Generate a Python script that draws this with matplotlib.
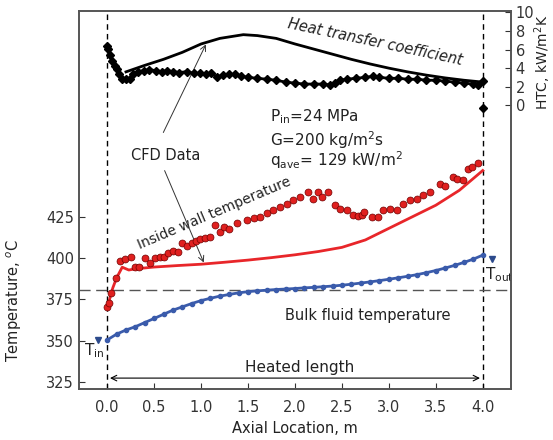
import matplotlib.pyplot as plt

# bulk fluid temperature (blue)
bulk_x = [0.0, 0.1, 0.2, 0.3, 0.4, 0.5, 0.6, 0.7, 0.8, 0.9, 1.0, 1.1, 1.2, 1.3, 1.4,
          1.5, 1.6, 1.7, 1.8, 1.9, 2.0, 2.1, 2.2, 2.3, 2.4, 2.5, 2.6, 2.7, 2.8, 2.9,
          3.0, 3.1, 3.2, 3.3, 3.4, 3.5, 3.6, 3.7, 3.8, 3.9, 4.0]
bulk_t = [350.5, 354, 356.5, 358.5, 361, 363.5, 366, 368.5, 370.5, 372.5, 374.3, 375.7,
          377, 378, 379, 379.7, 380.2, 380.6, 381, 381.3, 381.6, 382, 382.3, 382.7, 383.1,
          383.6, 384.2, 384.9, 385.6, 386.4, 387.2, 388.1, 389, 390, 391.2, 392.5, 394,
          395.6, 397.4, 399.4, 401.8]

# inside wall temperature, correlation (red line)
wall_x = [0.0, 0.03, 0.06, 0.1, 0.16, 0.23, 0.3, 0.5, 0.75, 1.0, 1.25, 1.5, 1.75, 2.0,
          2.25, 2.5, 2.75, 3.0, 3.25, 3.5, 3.75, 4.0]
wall_t = [370, 376, 382, 388, 394.5, 392.8, 393.5, 394.6, 395.5, 396.3, 397.5, 398.8,
          400.3, 402, 404, 406.5, 411, 418, 425, 432, 441, 453]

# inside wall temperature, CFD data (red dots)
cfd_x = [0.0, 0.02, 0.04, 0.09, 0.14, 0.19, 0.25, 0.3, 0.34, 0.4, 0.46, 0.51, 0.56, 0.6,
         0.65, 0.7, 0.75, 0.8, 0.85, 0.9, 0.95, 0.99, 1.04, 1.1, 1.15, 1.2, 1.24, 1.3,
         1.38, 1.49, 1.56, 1.63, 1.7, 1.77, 1.84, 1.91, 1.98, 2.05, 2.14, 2.19, 2.24,
         2.29, 2.35, 2.43, 2.48, 2.55, 2.62, 2.67, 2.71, 2.74, 2.82, 2.88, 2.94, 3.01,
         3.09, 3.15, 3.22, 3.3, 3.36, 3.44, 3.54, 3.6, 3.68, 3.73, 3.79, 3.84, 3.89, 3.95]
cfd_t = [370.5, 373, 379, 388, 398, 399.4, 400.6, 394.6, 394.6, 400, 397, 400, 400.6,
         400.6, 403, 404.2, 403.6, 409, 407.3, 409, 410.3, 411.5, 412, 412.7, 420, 415.7,
         418.8, 417.6, 421.2, 423, 424, 424.8, 427, 429, 431, 433, 435, 437, 440, 436,
         440, 437, 440, 432, 430, 429, 426, 425.5, 426, 428, 425, 425, 429, 430, 429,
         433, 435, 436, 438, 440, 445, 443.6, 449, 448, 447, 454, 455, 457.5]

# heat transfer coefficient, smooth curve
htc_x = [0.2, 0.4, 0.6, 0.8, 1.0, 1.2, 1.45, 1.6, 1.8, 2.0, 2.2, 2.4, 2.6, 2.8, 3.0,
         3.2, 3.4, 3.6, 3.8, 4.0]
htc_v = [3.6, 4.3, 4.95, 5.7, 6.6, 7.2, 7.6, 7.5, 7.2, 6.6, 6.05, 5.5, 4.95, 4.45, 4.0,
         3.6, 3.25, 2.95, 2.7, 2.5]

# heat transfer coefficient, CFD (diamonds)
htcd_x = [0.0, 0.01, 0.03, 0.05, 0.08, 0.1, 0.13, 0.16, 0.2, 0.24, 0.28, 0.33, 0.39,
          0.45, 0.52, 0.58, 0.64, 0.7, 0.77, 0.85, 0.92, 0.99, 1.05, 1.11, 1.17, 1.23,
          1.3, 1.36, 1.43, 1.5, 1.6, 1.7, 1.8, 1.9, 2.0, 2.1, 2.2, 2.3, 2.37, 2.43, 2.48,
          2.55, 2.65, 2.75, 2.83, 2.9, 3.0, 3.1, 3.2, 3.3, 3.4, 3.5, 3.6, 3.7, 3.8, 3.9,
          3.95, 4.0]
htcd_v = [6.42, 6.11, 5.39, 4.77, 4.25, 3.94, 3.32, 2.81, 2.81, 2.81, 3.32, 3.63, 3.73,
          3.84, 3.73, 3.63, 3.73, 3.63, 3.53, 3.63, 3.43, 3.43, 3.32, 3.43, 3.06, 3.22,
          3.32, 3.32, 3.12, 3.01, 2.91, 2.81, 2.70, 2.5, 2.39, 2.29, 2.29, 2.29, 2.19,
          2.39, 2.70, 2.81, 2.91, 3.01, 3.12, 3.01, 2.91, 2.91, 2.81, 2.81, 2.70, 2.70,
          2.6, 2.5, 2.39, 2.29, 2.19, 2.6]
htc_out_x = [4.0]
htc_out_v = [-0.3]

t_pc = 381
t_in = 350.6
t_out = 399.4

x_ticks = [0.0, 0.5, 1.0, 1.5, 2.0, 2.5, 3.0, 3.5, 4.0]
t_ticks = [325, 350, 375, 400, 425]
htc_ticks = [0, 2, 4, 6, 8, 10]

fig = plt.figure(figsize=(5.53, 4.4), dpi=100)
ax = fig.add_axes([0.1429, 0.1159, 0.781, 0.859])
ax2 = ax.twinx()

ax.set_xlim(-0.3, 4.3)
ax.set_ylim(320.8, 549.5)
ax2.set_ylim(-30.5, 10.14)

# reference lines
ax.axvline(0.0, color='black', lw=1, ls=(0, (4, 3)))
ax.axvline(4.0, color='black', lw=1, ls=(0, (4, 3)))
ax.axhline(t_pc, color='#555555', lw=1, ls=(0, (8, 4)))

# temperatures
ax.plot(bulk_x, bulk_t, color='#3a5bab', lw=2, marker='o', ms=3, zorder=3)
ax.plot(wall_x, wall_t, color='#e8262a', lw=2, zorder=3)
ax.plot(cfd_x, cfd_t, ls='none', marker='o', ms=5, mfc='#e0201f', mec='#700000',
        mew=0.5, zorder=4)

# inlet / outlet markers
ax.plot([-0.1], [t_in], marker='v', ms=5, color='#2c4a8c', ls='none')
ax.plot([4.1], [t_out], marker='v', ms=5, color='#2c4a8c', ls='none')
ax.text(-0.14, 344, r'T$_{\rm in}$', fontsize=11, ha='center', va='center', color='#222222')
ax.text(4.02, 390, r'T$_{\rm out}$', fontsize=11, ha='left', va='center', color='#222222',
        clip_on=True)

# HTC
ax2.plot(htc_x, htc_v, color='black', lw=2)
ax2.plot(htcd_x, htcd_v, color='black', lw=2, marker='D', ms=4)
ax2.plot(htc_out_x, htc_out_v, color='black', marker='D', ms=4, ls='none')

# heated length arrow
ax.annotate('', xy=(4.0, 327.4), xytext=(0.0, 327.4),
            arrowprops=dict(arrowstyle='<->', lw=0.8, color='black'))
ax.text(2.05, 334, 'Heated length', fontsize=11, ha='center', va='center', color='#222222')
ax.text(2.77, 365, 'Bulk fluid temperature', fontsize=10.5, ha='center', va='center',
        color='#222222')
ax.text(1.14, 426.9, 'Inside wall temperature', fontsize=10, ha='center', va='center',
        rotation=23, color='#222222')
ax.text(2.85, 530.7, 'Heat transfer coefficient', fontsize=10.5, ha='center', va='center',
        rotation=-12, style='italic', color='#222222')

# CFD data label with arrows
ax.text(0.62, 462.3, 'CFD Data', fontsize=10.5, ha='center', va='center', color='#222222')
ax.annotate('', xy=(1.064, 530.8), xytext=(0.585, 474.5),
            arrowprops=dict(arrowstyle='->', lw=0.7, color='#333333'))
ax.annotate('', xy=(1.04, 395.8), xytext=(0.6, 454.5),
            arrowprops=dict(arrowstyle='->', lw=0.7, color='#333333'))

# conditions
ax.text(1.73, 485.3, r'P$_{\rm in}$=24 MPa', fontsize=11, ha='left', va='center',
        color='#222222')
ax.text(1.73, 471.4, r'G=200 kg/m$^2$s', fontsize=11, ha='left', va='center',
        color='#222222')
ax.text(1.73, 459.3, r'q$_{\rm ave}$= 129 kW/m$^2$', fontsize=11, ha='left', va='center',
        color='#222222')

# axes cosmetics
ax.set_xticks(x_ticks)
ax.set_xticklabels(['%.1f' % v for v in x_ticks])
ax.set_yticks(t_ticks)
ax2.set_yticks(htc_ticks)
for a in (ax, ax2):
    a.tick_params(direction='in', length=4, labelsize=10.5, colors='#333333')
    for s in a.spines.values():
        s.set_color('#555555')
        s.set_linewidth(1.2)
ax.tick_params(axis='x', pad=8)

ax.set_xlabel('Axial Location, m', fontsize=10.5, color='#222222')
ax.set_ylabel('Temperature, $^o$C', fontsize=10.5, color='#222222')
ax.yaxis.set_label_coords(-0.127, 0.235)
ax2.set_ylabel('HTC, kW/m$^2$K', fontsize=10, color='#222222')
ax2.yaxis.set_label_coords(1.05, 0.865)

plt.savefig('out.png', dpi=100)
